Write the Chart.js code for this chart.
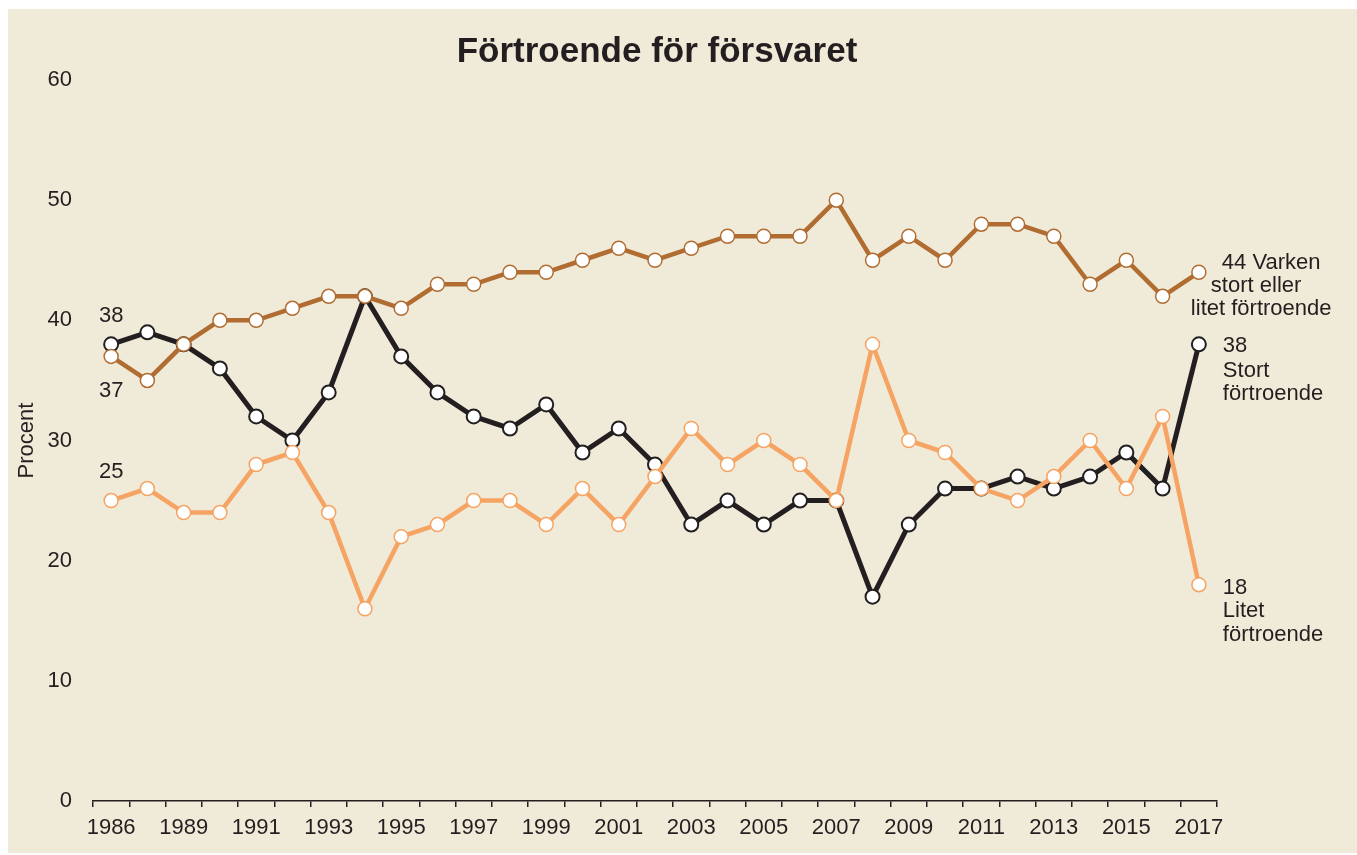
<!DOCTYPE html>
<html lang="sv">
<head>
<meta charset="utf-8">
<title>Förtroende för försvaret</title>
<script src="https://cdn.jsdelivr.net/npm/chart.js@4.4.1/dist/chart.umd.min.js"></script>
<style>
  html, body { margin: 0; padding: 0; background: #fff; }
  #wrap { width: 1357px; height: 855px; }
</style>
</head>
<body>
<div id="wrap"><canvas id="chart" width="1357" height="855"></canvas></div>
<script>
const years = ['1986','1987','1989','1990','1991','1992','1993','1994','1995','1996','1997','1998','1999','2000',
  '2001','2002','2003','2004','2005','2006','2007','2008','2009','2010','2011','2012','2013','2014','2015','2016','2017'];

// procent
const stort = [38,39,38,36,32,30,34,42,37,34,32,31,33,29,31,28,23,25,23,25,25,17,23,26,26,27,26,27,29,26,38];
const varken = [37,35,38,40,40,41,42,42,41,43,43,44,44,45,46,45,46,47,47,47,50,45,47,45,48,48,47,43,45,42,44];
const litet = [25,26,24,24,28,29,24,16,22,23,25,25,23,26,23,27,31,28,30,28,25,38,30,29,26,25,27,30,26,32,18];

const yTicks = [0,10,20,30,40,50,60];

const ink = '#231f20';
const font = '"Liberation Sans", Arial, Helvetica, sans-serif';

// bakgrundsruta
const panel = {
    id: 'panel',
    beforeDraw(chart) {
        const c = chart.ctx;
        c.save();
        c.fillStyle = '#ffffff';
        c.fillRect(0, 0, chart.width, chart.height);
        c.fillStyle = '#f0ead9';
        c.fillRect(8, 9, chart.width - 8, chart.height - 11);
        c.restore();
    }
};

// etiketter vid linjernas start och slut
const endLabels = {
    id: 'endLabels',
    afterDatasetsDraw(chart) {
        const c = chart.ctx;
        c.save();
        c.font = '22px ' + font;
        c.fillStyle = ink;
        c.textBaseline = 'middle';

        const pt = (ds, i) => chart.getDatasetMeta(ds).data[i];
        const last = years.length - 1;

        // vänster sida
        c.textAlign = 'center';
        let p = pt(2, 0);
        c.fillText(String(stort[0]), p.x, p.y - 28);
        p = pt(0, 0);
        c.fillText(String(varken[0]), p.x, p.y + 35);
        p = pt(1, 0);
        c.fillText(String(litet[0]), p.x, p.y - 29);

        // höger sida
        c.textAlign = 'left';
        p = pt(0, last);
        c.fillText(varken[last] + ' Varken', p.x + 23, p.y - 9);
        c.fillText('stort eller', p.x + 12, p.y + 14);
        c.fillText('litet förtroende', p.x - 8, p.y + 37);

        p = pt(2, last);
        c.fillText(String(stort[last]), p.x + 24, p.y + 2);
        c.fillText('Stort', p.x + 24, p.y + 27);
        c.fillText('förtroende', p.x + 24, p.y + 50);

        p = pt(1, last);
        c.fillText(String(litet[last]), p.x + 24, p.y + 3);
        c.fillText('Litet', p.x + 24, p.y + 26);
        c.fillText('förtroende', p.x + 24, p.y + 50);
        c.restore();
    }
};

function series(label, data, color, width, pbw) {
    return {
        label: label,
        data: data,
        borderColor: color,
        borderWidth: width,
        pointBackgroundColor: '#ffffff',
        pointBorderColor: color,
        pointBorderWidth: pbw,
        pointRadius: 7,
        pointHoverRadius: 7,
        tension: 0
    };
}

new Chart(document.getElementById('chart'), {
    type: 'line',
    data: {
        labels: years,
        datasets: [
            series('Varken stort eller litet förtroende', varken, '#b06c31', 4.5, 1.5),
            series('Litet förtroende', litet, '#f6a463', 4.5, 1.5),
            series('Stort förtroende', stort, ink, 5, 2)
        ]
    },
    options: {
        responsive: false,
        animation: false,
        layout: { padding: { left: 0, right: 43, top: 0, bottom: 0 } },
        plugins: {
            legend: { display: false },
            tooltip: { enabled: false },
            title: {
                display: true,
                text: 'Förtroende för försvaret',
                color: ink,
                font: { family: font, size: 35, weight: 'bold' },
                padding: { top: 31, bottom: 7 }
            }
        },
        scales: {
            x: {
                offset: true,
                grid: {
                    display: true,
                    offset: true,
                    drawOnChartArea: false,
                    drawTicks: true,
                    tickLength: 6,
                    color: ink,
                    lineWidth: 1.5
                },
                border: { display: true, color: ink, width: 1.5 },
                ticks: {
                    autoSkip: false,
                    maxRotation: 0,
                    minRotation: 0,
                    padding: 8,
                    color: ink,
                    font: { family: font, size: 22 },
                    callback: function(v, i) { return i % 2 === 0 ? years[i] : ''; }
                },
                afterFit(s) { s.height = 54; }
            },
            y: {
                min: 0,
                max: 60,
                afterBuildTicks(s) { s.ticks = yTicks.map(v => ({ value: v })); },
                grid: { display: false, drawTicks: false },
                border: { display: false },
                ticks: {
                    padding: 21,
                    color: ink,
                    font: { family: font, size: 22 }
                },
                title: {
                    display: true,
                    text: 'Procent',
                    color: ink,
                    font: { family: font, size: 22 },
                    padding: { top: 14, bottom: 0 }
                },
                afterFit(s) { s.width = 93; }
            },
            yr: {
                position: 'right',
                min: 0,
                max: 60,
                grid: { display: false, drawTicks: false },
                border: { display: false },
                ticks: { display: false },
                afterFit(s) { s.width = 97; }
            }
        }
    },
    plugins: [panel, endLabels]
});
</script>
</body>
</html>
